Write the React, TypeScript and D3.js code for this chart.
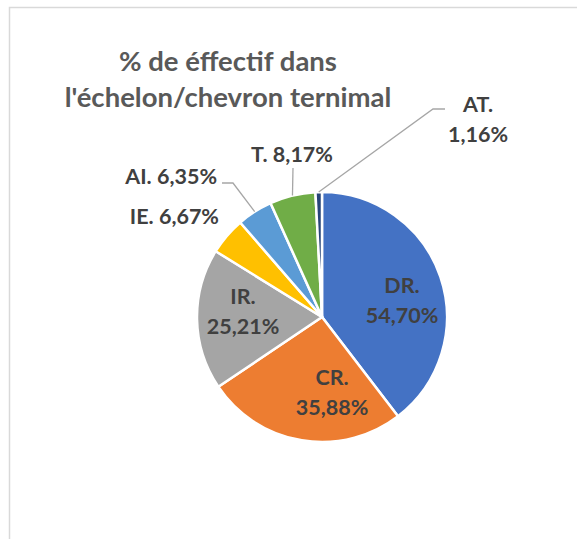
import React, {useMemo} from 'react'
import * as d3 from 'd3'

// chart data
const categories = ['DR.', 'CR.', 'IR.', 'IE.', 'AI.', 'T.', 'AT.']
const shares = [54.70, 35.88, 25.21, 6.67, 6.35, 8.17, 1.16]
const titleLines = ['% de éffectif dans', "l'échelon/chevron ternimal"]

const colors = ['#4472C4', '#ED7D31', '#A5A5A5', '#FFC000', '#5B9BD5', '#70AD47', '#264478']

const W = 577
const H = 539
const cx = 322
const cy = 317
const radius = 125

// label placement relative to the pie centre (as dragged in the original)
type LabelPos = {x: number, y: number, anchor: string, split: boolean, leader?: [number, number][]}
const labelLayout: Record<string, LabelPos> = {
  'DR.': {x: 80, y: -24, anchor: 'middle', split: true},
  'CR.': {x: 10, y: 68, anchor: 'middle', split: true},
  'IR.': {x: -79, y: -13, anchor: 'middle', split: true},
  'IE.': {x: -103, y: -93, anchor: 'end', split: false},
  'AI.': {x: -105, y: -133, anchor: 'end', split: false, leader: [[-100, -134], [-89, -134]]},
  'T.': {x: -30, y: -155, anchor: 'middle', split: false, leader: [[-29, -149]]},
  'AT.': {x: 156, y: -205, anchor: 'middle', split: true, leader: [[123, -208], [111, -208]]},
}

const frLocale = d3.formatLocale({decimal: ',', thousands: ' ', grouping: [3], currency: ['', ' €']})
const fmt = frLocale.format('.2f')

const font = 'Lato, "Open Sans", sans-serif'

const App = () => {
  const slices = useMemo(() => {
    const pie = d3.pie<number>().sort(null).value((d) => d)
    return pie(shares)
  }, [])

  const arcGen = d3.arc<d3.PieArcDatum<number>>().innerRadius(0).outerRadius(radius)
  const edgeArc = d3.arc<d3.PieArcDatum<number>>().innerRadius(radius).outerRadius(radius)

  return (
    <div style={{position: 'absolute', left: 0, top: 0}}>
      <svg width={W} height={H} style={{display: 'block'}}>
        <rect x={0} y={0} width={W} height={H} fill="#ffffff"/>
        <path d={`M9.5,${H} V7.5 H${W}`} fill="none" stroke="#d9d9d9" strokeWidth={1.5}/>

        <g fontFamily={font} fontWeight={700} fill="#595959" fontSize={27.5} textAnchor="middle">
          {titleLines.map((t, i) => (
            <text key={i} x={228} y={71 + i * 36}>{t}</text>
          ))}
        </g>

        <g transform={`translate(${cx},${cy})`}>
          {slices.map((s, i) => (
            <path key={i} d={arcGen(s) || ''} fill={colors[i]} stroke="#ffffff" strokeWidth={2.5}/>
          ))}

          {slices.map((s, i) => {
            const lay = labelLayout[categories[i]]
            if (!lay.leader) return null
            const edge = edgeArc.centroid(s)
            const pts = [...lay.leader, edge]
            return (
              <polyline key={i} points={pts.map((p) => p.join(',')).join(' ')}
                fill="none" stroke="#a6a6a6" strokeWidth={1.3}/>
            )
          })}

          <g fontFamily={font} fontWeight={700} fill="#404040" fontSize={21.5}>
            {slices.map((s, i) => {
              const lay = labelLayout[categories[i]]
              const value = fmt(shares[i]) + '%'
              if (lay.split) {
                return (
                  <text key={i} x={lay.x} y={lay.y} textAnchor={lay.anchor}>
                    <tspan x={lay.x} dy={0}>{categories[i]}</tspan>
                    <tspan x={lay.x} dy={30}>{value}</tspan>
                  </text>
                )
              }
              return (
                <text key={i} x={lay.x} y={lay.y} textAnchor={lay.anchor}>
                  {categories[i] + ' ' + value}
                </text>
              )
            })}
          </g>
        </g>
      </svg>
    </div>
  )
}

export default App
